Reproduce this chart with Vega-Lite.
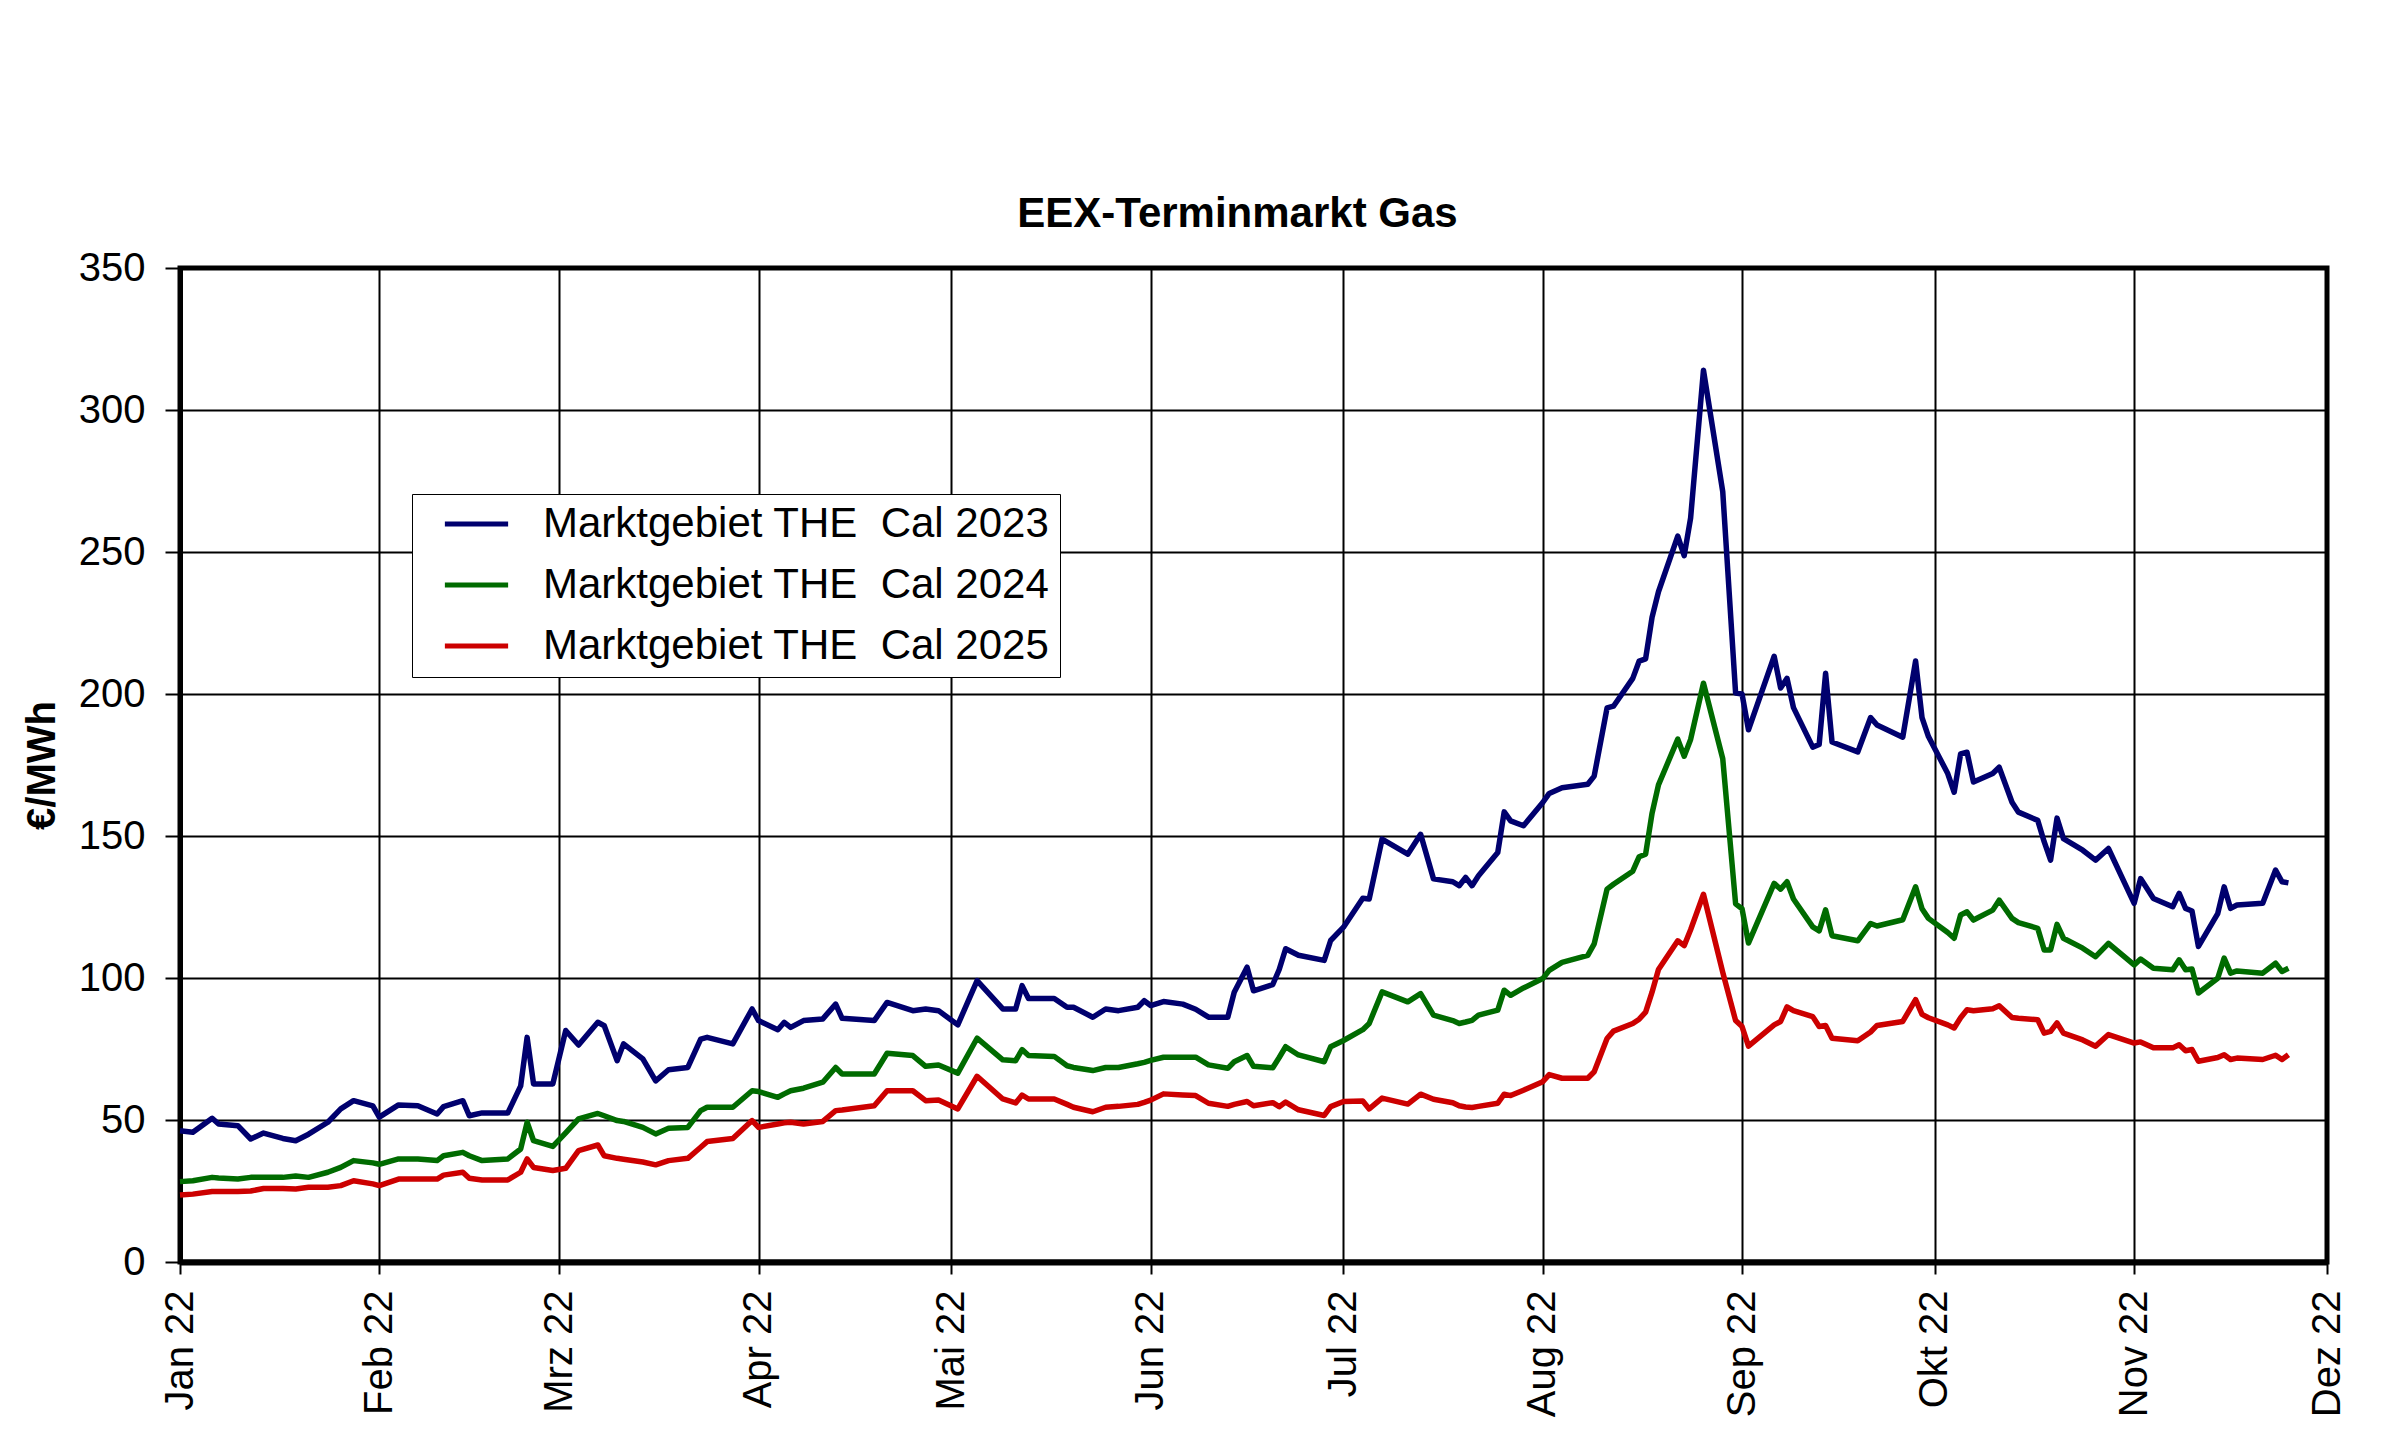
{
  "$schema": "https://vega.github.io/schema/vega-lite/v6.json",
  "description": "EEX-Terminmarkt Gas, Marktgebiet THE Cal 2023-2025",
  "width": 2147,
  "height": 994,
  "autosize": {"type": "none"},
  "padding": {"left": 180, "top": 268, "right": 73, "bottom": 185},
  "background": "white",
  "title": {
    "text": "EEX-Terminmarkt Gas",
    "font": "Liberation Sans",
    "fontSize": 42,
    "fontWeight": "bold",
    "color": "black",
    "anchor": "middle",
    "offset": 12,
    "dx": -16
  },
  "data": {
    "values": [
      {"datum": "2022-01-01", "cal2023": 46.2, "cal2024": 28.3, "cal2025": 23.6},
      {"datum": "2022-01-03", "cal2023": 45.7, "cal2024": 28.6, "cal2025": 23.9},
      {"datum": "2022-01-06", "cal2023": 50.6, "cal2024": 29.8, "cal2025": 24.8},
      {"datum": "2022-01-07", "cal2023": 48.6, "cal2024": 29.6, "cal2025": 24.8},
      {"datum": "2022-01-10", "cal2023": 48.0, "cal2024": 29.2, "cal2025": 24.8},
      {"datum": "2022-01-12", "cal2023": 43.3, "cal2024": 29.8, "cal2025": 25.0},
      {"datum": "2022-01-14", "cal2023": 45.4, "cal2024": 29.8, "cal2025": 25.9},
      {"datum": "2022-01-17", "cal2023": 43.5, "cal2024": 29.8, "cal2025": 25.9},
      {"datum": "2022-01-19", "cal2023": 42.7, "cal2024": 30.3, "cal2025": 25.7},
      {"datum": "2022-01-21", "cal2023": 45.0, "cal2024": 29.8, "cal2025": 26.3},
      {"datum": "2022-01-24", "cal2023": 49.2, "cal2024": 31.6, "cal2025": 26.3},
      {"datum": "2022-01-26", "cal2023": 53.9, "cal2024": 33.3, "cal2025": 26.9},
      {"datum": "2022-01-28", "cal2023": 56.8, "cal2024": 35.7, "cal2025": 28.6},
      {"datum": "2022-01-31", "cal2023": 55.0, "cal2024": 34.9, "cal2025": 27.5},
      {"datum": "2022-02-01", "cal2023": 51.0, "cal2024": 34.4, "cal2025": 26.9},
      {"datum": "2022-02-04", "cal2023": 55.3, "cal2024": 36.3, "cal2025": 29.2},
      {"datum": "2022-02-07", "cal2023": 55.0, "cal2024": 36.3, "cal2025": 29.2},
      {"datum": "2022-02-10", "cal2023": 52.1, "cal2024": 35.7, "cal2025": 29.2},
      {"datum": "2022-02-11", "cal2023": 54.7, "cal2024": 37.4, "cal2025": 30.6},
      {"datum": "2022-02-14", "cal2023": 56.8, "cal2024": 38.6, "cal2025": 31.6},
      {"datum": "2022-02-15", "cal2023": 51.5, "cal2024": 37.4, "cal2025": 29.5},
      {"datum": "2022-02-17", "cal2023": 52.5, "cal2024": 35.7, "cal2025": 28.9},
      {"datum": "2022-02-21", "cal2023": 52.5, "cal2024": 36.3, "cal2025": 28.9},
      {"datum": "2022-02-23", "cal2023": 62.0, "cal2024": 39.8, "cal2025": 31.6},
      {"datum": "2022-02-24", "cal2023": 79.1, "cal2024": 49.2, "cal2025": 36.3},
      {"datum": "2022-02-25", "cal2023": 62.7, "cal2024": 42.7, "cal2025": 33.3},
      {"datum": "2022-02-28", "cal2023": 62.7, "cal2024": 40.7, "cal2025": 32.2},
      {"datum": "2022-03-02", "cal2023": 81.5, "cal2024": 45.5, "cal2025": 33.0},
      {"datum": "2022-03-04", "cal2023": 76.4, "cal2024": 50.4, "cal2025": 39.2},
      {"datum": "2022-03-07", "cal2023": 84.4, "cal2024": 52.3, "cal2025": 41.2},
      {"datum": "2022-03-08", "cal2023": 83.2, "cal2024": 51.5, "cal2025": 37.4},
      {"datum": "2022-03-10", "cal2023": 70.9, "cal2024": 49.8, "cal2025": 36.5},
      {"datum": "2022-03-11", "cal2023": 76.8, "cal2024": 49.5, "cal2025": 36.2},
      {"datum": "2022-03-14", "cal2023": 71.5, "cal2024": 47.4, "cal2025": 35.2},
      {"datum": "2022-03-16", "cal2023": 63.8, "cal2024": 45.1, "cal2025": 34.2},
      {"datum": "2022-03-18", "cal2023": 67.7, "cal2024": 47.1, "cal2025": 35.7},
      {"datum": "2022-03-21", "cal2023": 68.5, "cal2024": 47.4, "cal2025": 36.5},
      {"datum": "2022-03-23", "cal2023": 78.5, "cal2024": 53.3, "cal2025": 40.4},
      {"datum": "2022-03-24", "cal2023": 79.1, "cal2024": 54.5, "cal2025": 42.4},
      {"datum": "2022-03-28", "cal2023": 76.8, "cal2024": 54.5, "cal2025": 43.5},
      {"datum": "2022-03-31", "cal2023": 89.1, "cal2024": 60.3, "cal2025": 49.8},
      {"datum": "2022-04-01", "cal2023": 85.0, "cal2024": 60.0, "cal2025": 47.4},
      {"datum": "2022-04-04", "cal2023": 81.8, "cal2024": 58.0, "cal2025": 48.6},
      {"datum": "2022-04-05", "cal2023": 84.4, "cal2024": 59.2, "cal2025": 49.0},
      {"datum": "2022-04-06", "cal2023": 82.6, "cal2024": 60.3, "cal2025": 49.2},
      {"datum": "2022-04-08", "cal2023": 85.0, "cal2024": 61.2, "cal2025": 48.6},
      {"datum": "2022-04-11", "cal2023": 85.6, "cal2024": 63.3, "cal2025": 49.5},
      {"datum": "2022-04-13", "cal2023": 90.8, "cal2024": 68.5, "cal2025": 53.3},
      {"datum": "2022-04-14", "cal2023": 85.8, "cal2024": 66.2, "cal2025": 53.5},
      {"datum": "2022-04-19", "cal2023": 85.0, "cal2024": 66.2, "cal2025": 55.0},
      {"datum": "2022-04-21", "cal2023": 91.4, "cal2024": 73.5, "cal2025": 60.3},
      {"datum": "2022-04-25", "cal2023": 88.5, "cal2024": 72.7, "cal2025": 60.3},
      {"datum": "2022-04-27", "cal2023": 89.1, "cal2024": 68.9, "cal2025": 56.8},
      {"datum": "2022-04-29", "cal2023": 88.5, "cal2024": 69.4, "cal2025": 57.0},
      {"datum": "2022-05-02", "cal2023": 83.5, "cal2024": 66.5, "cal2025": 53.9},
      {"datum": "2022-05-05", "cal2023": 99.1, "cal2024": 78.8, "cal2025": 65.4},
      {"datum": "2022-05-09", "cal2023": 89.1, "cal2024": 71.2, "cal2025": 57.4},
      {"datum": "2022-05-11", "cal2023": 89.1, "cal2024": 70.9, "cal2025": 56.0},
      {"datum": "2022-05-12", "cal2023": 97.3, "cal2024": 74.8, "cal2025": 58.8},
      {"datum": "2022-05-13", "cal2023": 92.8, "cal2024": 72.7, "cal2025": 57.4},
      {"datum": "2022-05-17", "cal2023": 92.8, "cal2024": 72.4, "cal2025": 57.4},
      {"datum": "2022-05-19", "cal2023": 89.7, "cal2024": 69.1, "cal2025": 55.5},
      {"datum": "2022-05-20", "cal2023": 89.7, "cal2024": 68.5, "cal2025": 54.5},
      {"datum": "2022-05-23", "cal2023": 86.2, "cal2024": 67.4, "cal2025": 52.9},
      {"datum": "2022-05-25", "cal2023": 89.1, "cal2024": 68.5, "cal2025": 54.5},
      {"datum": "2022-05-27", "cal2023": 88.5, "cal2024": 68.5, "cal2025": 54.8},
      {"datum": "2022-05-30", "cal2023": 89.7, "cal2024": 69.8, "cal2025": 55.5},
      {"datum": "2022-05-31", "cal2023": 92.0, "cal2024": 70.3, "cal2025": 56.2},
      {"datum": "2022-06-01", "cal2023": 90.3, "cal2024": 71.0, "cal2025": 57.0},
      {"datum": "2022-06-03", "cal2023": 91.7, "cal2024": 72.1, "cal2025": 59.2},
      {"datum": "2022-06-06", "cal2023": 90.8, "cal2024": 72.1, "cal2025": 58.8},
      {"datum": "2022-06-08", "cal2023": 89.0, "cal2024": 72.1, "cal2025": 58.6},
      {"datum": "2022-06-10", "cal2023": 86.2, "cal2024": 69.4, "cal2025": 55.9},
      {"datum": "2022-06-13", "cal2023": 86.2, "cal2024": 68.2, "cal2025": 54.8},
      {"datum": "2022-06-14", "cal2023": 95.0, "cal2024": 70.5, "cal2025": 55.5},
      {"datum": "2022-06-16", "cal2023": 103.8, "cal2024": 72.7, "cal2025": 56.5},
      {"datum": "2022-06-17", "cal2023": 95.5, "cal2024": 68.9, "cal2025": 55.0},
      {"datum": "2022-06-20", "cal2023": 97.7, "cal2024": 68.4, "cal2025": 56.1},
      {"datum": "2022-06-21", "cal2023": 103.0, "cal2024": 72.0, "cal2025": 54.7},
      {"datum": "2022-06-22", "cal2023": 110.3, "cal2024": 75.8, "cal2025": 56.3},
      {"datum": "2022-06-24", "cal2023": 108.0, "cal2024": 72.9, "cal2025": 53.6},
      {"datum": "2022-06-28", "cal2023": 106.2, "cal2024": 70.5, "cal2025": 51.6},
      {"datum": "2022-06-29", "cal2023": 113.2, "cal2024": 75.8, "cal2025": 54.7},
      {"datum": "2022-07-01", "cal2023": 117.9, "cal2024": 78.0, "cal2025": 56.5},
      {"datum": "2022-07-04", "cal2023": 128.1, "cal2024": 81.8, "cal2025": 56.7},
      {"datum": "2022-07-05", "cal2023": 127.8, "cal2024": 84.0, "cal2025": 53.9},
      {"datum": "2022-07-07", "cal2023": 148.9, "cal2024": 95.1, "cal2025": 57.7},
      {"datum": "2022-07-11", "cal2023": 143.6, "cal2024": 91.6, "cal2025": 55.6},
      {"datum": "2022-07-13", "cal2023": 150.6, "cal2024": 94.5, "cal2025": 59.1},
      {"datum": "2022-07-15", "cal2023": 134.9, "cal2024": 86.9, "cal2025": 57.3},
      {"datum": "2022-07-18", "cal2023": 133.9, "cal2024": 85.0, "cal2025": 56.1},
      {"datum": "2022-07-19", "cal2023": 132.5, "cal2024": 84.0, "cal2025": 55.0},
      {"datum": "2022-07-20", "cal2023": 135.4, "cal2024": 84.5, "cal2025": 54.6},
      {"datum": "2022-07-21", "cal2023": 132.5, "cal2024": 85.1, "cal2025": 54.4},
      {"datum": "2022-07-22", "cal2023": 136.0, "cal2024": 86.9, "cal2025": 54.8},
      {"datum": "2022-07-25", "cal2023": 144.2, "cal2024": 88.7, "cal2025": 55.9},
      {"datum": "2022-07-26", "cal2023": 158.5, "cal2024": 95.7, "cal2025": 59.1},
      {"datum": "2022-07-27", "cal2023": 155.3, "cal2024": 93.9, "cal2025": 58.6},
      {"datum": "2022-07-29", "cal2023": 153.6, "cal2024": 96.5, "cal2025": 60.5},
      {"datum": "2022-08-01", "cal2023": 161.8, "cal2024": 99.8, "cal2025": 63.5},
      {"datum": "2022-08-02", "cal2023": 165.0, "cal2024": 102.7, "cal2025": 66.0},
      {"datum": "2022-08-04", "cal2023": 167.0, "cal2024": 105.5, "cal2025": 64.7},
      {"datum": "2022-08-08", "cal2023": 168.2, "cal2024": 108.0, "cal2025": 64.7},
      {"datum": "2022-08-09", "cal2023": 171.1, "cal2024": 112.0, "cal2025": 67.0},
      {"datum": "2022-08-11", "cal2023": 195.1, "cal2024": 131.3, "cal2025": 78.7},
      {"datum": "2022-08-12", "cal2023": 195.7, "cal2024": 133.0, "cal2025": 81.3},
      {"datum": "2022-08-15", "cal2023": 205.5, "cal2024": 137.6, "cal2025": 84.0},
      {"datum": "2022-08-16", "cal2023": 211.6, "cal2024": 142.7, "cal2025": 85.5},
      {"datum": "2022-08-17", "cal2023": 212.4, "cal2024": 143.6, "cal2025": 88.0},
      {"datum": "2022-08-18", "cal2023": 227.0, "cal2024": 158.0, "cal2025": 95.0},
      {"datum": "2022-08-19", "cal2023": 236.0, "cal2024": 168.0, "cal2025": 103.0},
      {"datum": "2022-08-22", "cal2023": 255.6, "cal2024": 184.1, "cal2025": 113.1},
      {"datum": "2022-08-23", "cal2023": 248.7, "cal2024": 178.1, "cal2025": 111.4},
      {"datum": "2022-08-24", "cal2023": 262.0, "cal2024": 184.0, "cal2025": 117.0},
      {"datum": "2022-08-26", "cal2023": 314.0, "cal2024": 203.8, "cal2025": 129.5},
      {"datum": "2022-08-29", "cal2023": 271.2, "cal2024": 177.2, "cal2025": 102.0},
      {"datum": "2022-08-31", "cal2023": 200.3, "cal2024": 126.1, "cal2025": 85.0},
      {"datum": "2022-09-01", "cal2023": 200.0, "cal2024": 124.4, "cal2025": 82.9},
      {"datum": "2022-09-02", "cal2023": 187.4, "cal2024": 112.3, "cal2025": 76.0},
      {"datum": "2022-09-06", "cal2023": 213.3, "cal2024": 133.3, "cal2025": 83.5},
      {"datum": "2022-09-07", "cal2023": 202.1, "cal2024": 131.3, "cal2025": 84.7},
      {"datum": "2022-09-08", "cal2023": 205.5, "cal2024": 133.9, "cal2025": 89.8},
      {"datum": "2022-09-09", "cal2023": 195.2, "cal2024": 127.8, "cal2025": 88.5},
      {"datum": "2022-09-12", "cal2023": 181.3, "cal2024": 118.0, "cal2025": 86.4},
      {"datum": "2022-09-13", "cal2023": 182.2, "cal2024": 116.6, "cal2025": 82.9},
      {"datum": "2022-09-14", "cal2023": 207.3, "cal2024": 124.0, "cal2025": 83.3},
      {"datum": "2022-09-15", "cal2023": 183.1, "cal2024": 114.9, "cal2025": 78.8},
      {"datum": "2022-09-19", "cal2023": 179.6, "cal2024": 113.1, "cal2025": 77.9},
      {"datum": "2022-09-21", "cal2023": 191.7, "cal2024": 119.2, "cal2025": 81.0},
      {"datum": "2022-09-22", "cal2023": 189.1, "cal2024": 118.3, "cal2025": 83.3},
      {"datum": "2022-09-26", "cal2023": 184.8, "cal2024": 120.5, "cal2025": 84.7},
      {"datum": "2022-09-28", "cal2023": 211.6, "cal2024": 132.1, "cal2025": 92.4},
      {"datum": "2022-09-29", "cal2023": 191.7, "cal2024": 124.4, "cal2025": 87.2},
      {"datum": "2022-09-30", "cal2023": 185.0, "cal2024": 121.0, "cal2025": 86.0},
      {"datum": "2022-10-03", "cal2023": 172.0, "cal2024": 116.0, "cal2025": 83.5},
      {"datum": "2022-10-04", "cal2023": 165.4, "cal2024": 114.0, "cal2025": 82.4},
      {"datum": "2022-10-05", "cal2023": 178.9, "cal2024": 122.2, "cal2025": 86.0},
      {"datum": "2022-10-06", "cal2023": 179.5, "cal2024": 123.3, "cal2025": 88.8},
      {"datum": "2022-10-07", "cal2023": 169.0, "cal2024": 120.4, "cal2025": 88.5},
      {"datum": "2022-10-10", "cal2023": 172.0, "cal2024": 123.9, "cal2025": 89.2},
      {"datum": "2022-10-11", "cal2023": 174.2, "cal2024": 127.4, "cal2025": 90.2},
      {"datum": "2022-10-13", "cal2023": 161.9, "cal2024": 121.0, "cal2025": 86.1},
      {"datum": "2022-10-14", "cal2023": 158.4, "cal2024": 119.5, "cal2025": 85.8},
      {"datum": "2022-10-17", "cal2023": 155.5, "cal2024": 117.5, "cal2025": 85.3},
      {"datum": "2022-10-18", "cal2023": 148.0, "cal2024": 109.9, "cal2025": 80.6},
      {"datum": "2022-10-19", "cal2023": 141.5, "cal2024": 109.9, "cal2025": 81.2},
      {"datum": "2022-10-20", "cal2023": 156.3, "cal2024": 118.9, "cal2025": 84.2},
      {"datum": "2022-10-21", "cal2023": 149.1, "cal2024": 114.0, "cal2025": 80.6},
      {"datum": "2022-10-24", "cal2023": 145.0, "cal2024": 110.5, "cal2025": 78.2},
      {"datum": "2022-10-26", "cal2023": 141.5, "cal2024": 107.5, "cal2025": 76.0},
      {"datum": "2022-10-28", "cal2023": 145.6, "cal2024": 112.2, "cal2025": 80.1},
      {"datum": "2022-11-01", "cal2023": 126.3, "cal2024": 104.6, "cal2025": 77.1},
      {"datum": "2022-11-02", "cal2023": 135.0, "cal2024": 106.7, "cal2025": 77.5},
      {"datum": "2022-11-04", "cal2023": 128.0, "cal2024": 103.4, "cal2025": 75.4},
      {"datum": "2022-11-07", "cal2023": 125.1, "cal2024": 102.9, "cal2025": 75.4},
      {"datum": "2022-11-08", "cal2023": 129.8, "cal2024": 106.4, "cal2025": 76.5},
      {"datum": "2022-11-09", "cal2023": 124.5, "cal2024": 102.9, "cal2025": 74.4},
      {"datum": "2022-11-10", "cal2023": 123.6, "cal2024": 103.2, "cal2025": 74.8},
      {"datum": "2022-11-11", "cal2023": 111.1, "cal2024": 94.7, "cal2025": 70.7},
      {"datum": "2022-11-14", "cal2023": 122.7, "cal2024": 99.9, "cal2025": 72.0},
      {"datum": "2022-11-15", "cal2023": 132.1, "cal2024": 107.0, "cal2025": 73.0},
      {"datum": "2022-11-16", "cal2023": 124.5, "cal2024": 101.7, "cal2025": 71.3},
      {"datum": "2022-11-17", "cal2023": 125.7, "cal2024": 102.5, "cal2025": 71.8},
      {"datum": "2022-11-21", "cal2023": 126.3, "cal2024": 101.7, "cal2025": 71.3},
      {"datum": "2022-11-23", "cal2023": 138.0, "cal2024": 105.2, "cal2025": 72.8},
      {"datum": "2022-11-24", "cal2023": 133.9, "cal2024": 102.3, "cal2025": 71.3},
      {"datum": "2022-11-25", "cal2023": 133.5, "cal2024": 103.4, "cal2025": 73.0}
    ]
  },
  "transform": [
    {"fold": ["cal2023", "cal2024", "cal2025"], "as": ["serie", "preis"]}
  ],
  "mark": {"type": "line", "strokeWidth": 5.5, "strokeJoin": "round"},
  "encoding": {
    "x": {
      "field": "datum",
      "type": "temporal",
      "scale": {
        "type": "utc",
        "domain": [
          {"year": 2022, "month": 1, "date": 1, "utc": true},
          {"year": 2022, "month": 12, "date": 1, "utc": true}
        ]
      },
      "axis": {
        "title": null,
        "values": [
          {"year": 2022, "month": 1, "date": 1, "utc": true},
          {"year": 2022, "month": 2, "date": 1, "utc": true},
          {"year": 2022, "month": 3, "date": 1, "utc": true},
          {"year": 2022, "month": 4, "date": 1, "utc": true},
          {"year": 2022, "month": 5, "date": 1, "utc": true},
          {"year": 2022, "month": 6, "date": 1, "utc": true},
          {"year": 2022, "month": 7, "date": 1, "utc": true},
          {"year": 2022, "month": 8, "date": 1, "utc": true},
          {"year": 2022, "month": 9, "date": 1, "utc": true},
          {"year": 2022, "month": 10, "date": 1, "utc": true},
          {"year": 2022, "month": 11, "date": 1, "utc": true},
          {"year": 2022, "month": 12, "date": 1, "utc": true}
        ],
        "labelExpr": "['Jan','Feb','Mrz','Apr','Mai','Jun','Jul','Aug','Sep','Okt','Nov','Dez'][utcmonth(datum.value)] + ' 22'",
        "labelAngle": 270,
        "labelFont": "Liberation Sans",
        "labelFontSize": 40,
        "labelColor": "black",
        "labelPadding": 16,
        "labelOverlap": false,
        "labelFlush": false,
        "labelBound": false,
        "tickSize": 12,
        "tickWidth": 2,
        "tickColor": "black",
        "grid": true,
        "gridColor": "black",
        "gridWidth": 2,
        "gridOpacity": 1,
        "domainColor": "black",
        "domainWidth": 6
      }
    },
    "y": {
      "field": "preis",
      "type": "quantitative",
      "scale": {"domain": [0, 350], "nice": false, "zero": true},
      "axis": {
        "title": "€/MWh",
        "titleFont": "Liberation Sans",
        "titleFontSize": 40,
        "titleFontWeight": "bold",
        "titleColor": "black",
        "titlePadding": 16,
        "values": [0, 50, 100, 150, 200, 250, 300, 350],
        "labelFont": "Liberation Sans",
        "labelFontSize": 40,
        "labelColor": "black",
        "labelPadding": 20,
        "tickSize": 15,
        "tickWidth": 2,
        "tickColor": "black",
        "grid": true,
        "gridColor": "black",
        "gridWidth": 2,
        "gridOpacity": 1,
        "domainColor": "black",
        "domainWidth": 5
      }
    },
    "color": {
      "field": "serie",
      "type": "nominal",
      "scale": {
        "domain": ["cal2023", "cal2024", "cal2025"],
        "range": ["#00006e", "#006b00", "#cc0000"]
      },
      "legend": {
        "title": null,
        "orient": "none",
        "legendX": 232,
        "legendY": 226,
        "labelExpr": "'Marktgebiet THE\u00a0 Cal ' + slice(datum.label, 3)",
        "labelFont": "Liberation Sans",
        "labelFontSize": 42,
        "labelColor": "black",
        "labelLimit": 1000,
        "labelOffset": 32,
        "symbolType": "stroke",
        "symbolSize": 4000,
        "symbolStrokeWidth": 5,
        "symbolOffset": 20,
        "clipHeight": 40,
        "rowPadding": 19,
        "padding": 10,
        "strokeColor": "black",
        "fillColor": "white"
      }
    }
  },
  "config": {
    "font": "Liberation Sans",
    "view": {"stroke": "black", "strokeWidth": 5}
  }
}
